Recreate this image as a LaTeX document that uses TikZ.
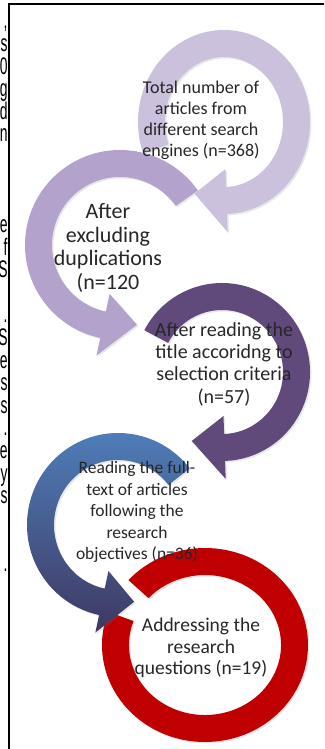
\documentclass[tikz,border=0pt]{standalone}
\usepackage{fontspec}
\setmainfont{Carlito}
\newfontfamily\marginfont{Liberation Sans}
\usetikzlibrary{shadows}
\definecolor{lilaclight}{RGB}{204,193,221}
\definecolor{lilacmid}{RGB}{179,162,204}
\definecolor{plum}{RGB}{96,74,123}
\definecolor{steelblue}{RGB}{79,129,189}
\definecolor{navyplum}{RGB}{62,56,98}
\definecolor{darkred}{RGB}{192,0,0}
\newcommand{\bandw}{27}
\newcommand{\headover}{18}
% #1,#2 centre, #3,#4 outer radii, #5 start, #6 end, #7 tip offset, #8 style
\newcommand{\ringarrow}[8]{%
  \begin{scope}[shift={(#1,#2)}]
    \pgfmathsetmacro\hxo{#3+\headover}\pgfmathsetmacro\hyo{#4+\headover}
    \pgfmathsetmacro\mxr{#3-\bandw/2}\pgfmathsetmacro\myr{#4-\bandw/2}
    \pgfmathsetmacro\hxi{#3-\bandw-\headover}\pgfmathsetmacro\hyi{#4-\bandw-\headover}
    \pgfmathsetmacro\ixr{#3-\bandw}\pgfmathsetmacro\iyr{#4-\bandw}
    \pgfmathsetmacro\tipa{#6+#7}
    \path[#8] (#5:#3pt and #4pt)
      arc[start angle=#5, end angle=#6, x radius=#3pt, y radius=#4pt]
      -- (#6:\hxo pt and \hyo pt) -- (\tipa:\mxr pt and \myr pt)
      -- (#6:\hxi pt and \hyi pt) -- (#6:\ixr pt and \iyr pt)
      arc[start angle=#6, end angle=#5, x radius=\ixr pt, y radius=\iyr pt]
      -- cycle;
  \end{scope}}
\begin{document}
\begin{tikzpicture}[x=1pt,y=1pt,
    shadowed/.style={drop shadow={opacity=0.18,shadow xshift=1.5pt,shadow yshift=-1.5pt}},
    ringtext/.style={align=center,text=black!85,inner sep=0pt}]
  \useasboundingbox (0,0) rectangle (324,-749);
  % frame
  \draw[line width=2pt] (9,-749) -- (9,-4.5) -- (324,-4.5);
  % ends of the cut text column
  \foreach \ch [count=\i from 0] in {{,},s,0,g,d,n,{},{},{},e,f,S,{},.,S,e,s,s,.,e,y,s,{},{},.}
    \node[anchor=base east,inner sep=0pt,font=\marginfont\fontsize{24}{24}\selectfont]
      (cut\i) at (7.8,-29-22.6*\i) {\scalebox{0.58}[1]{\ch}};
  % circular arrows, last one first
  \begin{scope}[shift={(205,-645)}]
    \path[fill=darkred,shadowed] (138:103pt and 97pt)
      arc[start angle=138, end angle=-200, x radius=103pt, y radius=97pt]
      -- (-200:76pt and 70pt)
      arc[start angle=-200, end angle=138, x radius=76pt, y radius=70pt] -- cycle;
  \end{scope}
  \ringarrow{118}{-525}{91}{92}{38}{258}{24}{top color=steelblue,bottom color=navyplum,shadowed}
  \ringarrow{222}{-372}{88}{89}{152}{-88}{-26}{fill=plum,shadowed}
  \ringarrow{120}{-245}{95}{95}{35}{258}{24}{fill=lilacmid,shadowed}
  \ringarrow{224}{-122}{86}{92}{200}{-88}{-26}{fill=lilaclight,shadowed}
  % texts
  \node[ringtext,font=\fontsize{18}{21}\selectfont] (total) at (201,-120)
    {Total number of\\articles from\\different search\\engines (n=368)};
  \node[ringtext,font=\fontsize{22}{23.5}\selectfont] (excl) at (108,-248)
    {After\\excluding\\duplications\\(n=120};
  \node[ringtext,font=\fontsize{20}{22.3}\selectfont] (title) at (224,-364)
    {After reading the\\title accoridng to\\selection criteria\\(n=57)};
  \node[ringtext,font=\fontsize{17.5}{21.5}\selectfont] (fulltext) at (137,-512)
    {Reading the full-\\text of articles\\following the\\research\\objectives (n=36)};
  \node[ringtext,font=\fontsize{19.5}{21.5}\selectfont] (answer) at (201,-648)
    {Addressing the\\research\\questions (n=19)};
\end{tikzpicture}
\end{document}
